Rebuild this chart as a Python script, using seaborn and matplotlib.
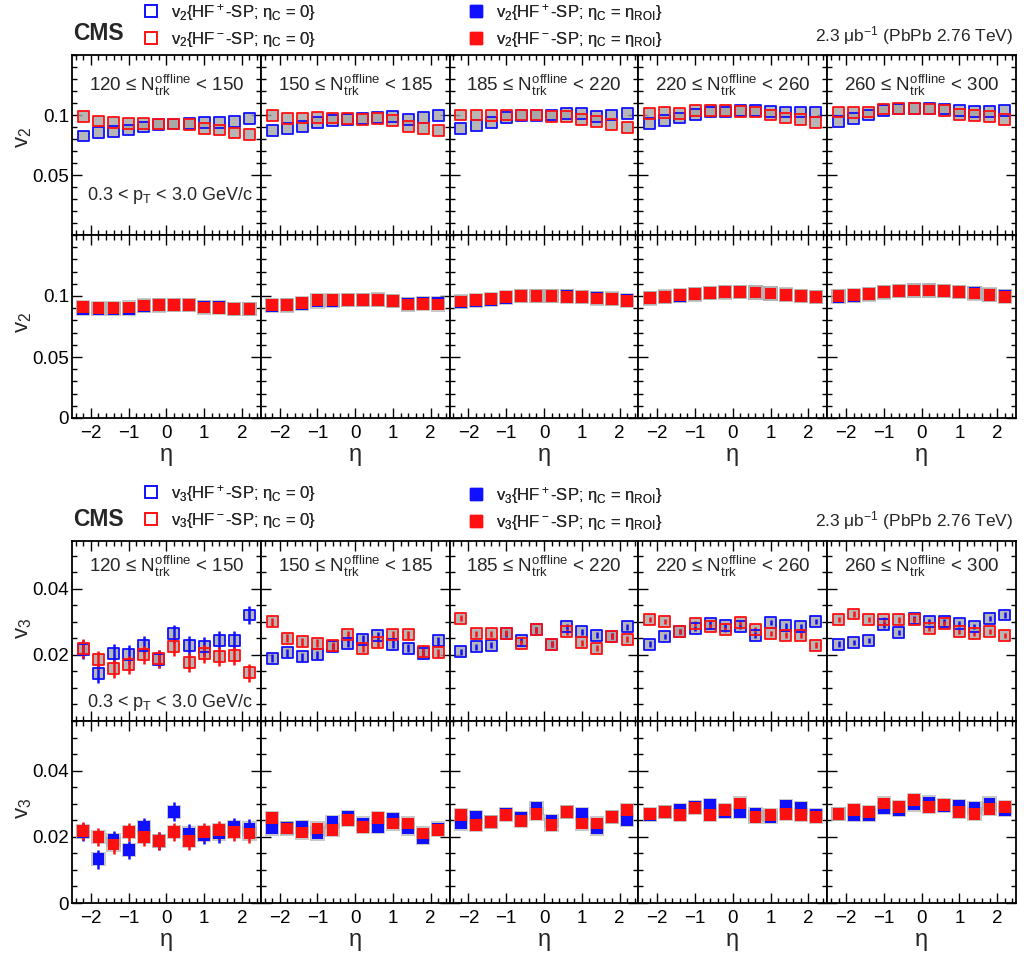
import numpy as np
import pandas as pd
import matplotlib
matplotlib.use("Agg")
import matplotlib.pyplot as plt
import seaborn as sns
from matplotlib.ticker import MultipleLocator, FixedLocator
from matplotlib.lines import Line2D

# ---------------- data ----------------
eta = [-2.2, -1.8, -1.4, -1.0, -0.6, -0.2, 0.2, 0.6, 1.0, 1.4, 1.8, 2.2]
mult_lo = [120, 150, 185, 220, 260]
mult_hi = [150, 185, 220, 260, 300]

# v2, eta_C = 0 (open markers)
v2_hfp_c0 = [
    [0.0825, 0.0853, 0.0860, 0.0875, 0.0900, 0.0922, 0.0925, 0.0930, 0.0935, 0.0938, 0.0945, 0.0970],
    [0.0870, 0.0890, 0.0905, 0.0940, 0.0955, 0.0965, 0.0970, 0.0980, 0.0985, 0.0965, 0.0980, 0.0995],
    [0.0890, 0.0915, 0.0935, 0.0980, 0.0995, 0.0995, 0.1000, 0.1010, 0.1010, 0.0990, 0.1000, 0.1010],
    [0.0930, 0.0955, 0.0975, 0.1005, 0.1025, 0.1025, 0.1035, 0.1035, 0.1030, 0.1025, 0.1025, 0.1025],
    [0.0945, 0.0970, 0.1000, 0.1040, 0.1050, 0.1055, 0.1055, 0.1050, 0.1040, 0.1030, 0.1030, 0.1035],
]
v2_hfm_c0 = [
    [0.0985, 0.0950, 0.0935, 0.0930, 0.0930, 0.0925, 0.0925, 0.0920, 0.0890, 0.0875, 0.0850, 0.0835],
    [0.0995, 0.0970, 0.0975, 0.0980, 0.0975, 0.0970, 0.0965, 0.0970, 0.0955, 0.0905, 0.0890, 0.0870],
    [0.1000, 0.1000, 0.0995, 0.1000, 0.1000, 0.1000, 0.0985, 0.0985, 0.0965, 0.0945, 0.0920, 0.0895],
    [0.1010, 0.1020, 0.1015, 0.1035, 0.1040, 0.1035, 0.1030, 0.1025, 0.1000, 0.0975, 0.0965, 0.0935],
    [0.1025, 0.1020, 0.1025, 0.1050, 0.1055, 0.1055, 0.1050, 0.1040, 0.1005, 0.0995, 0.0985, 0.0965],
]
# v2, eta_C = eta_ROI (filled markers)
v2_hfp_roi = [
    [0.0895, 0.0895, 0.0893, 0.0895, 0.0918, 0.0922, 0.0925, 0.0928, 0.0910, 0.0910, 0.0895, 0.0893],
    [0.0915, 0.0922, 0.0935, 0.0955, 0.0960, 0.0965, 0.0967, 0.0972, 0.0962, 0.0935, 0.0940, 0.0945],
    [0.0950, 0.0960, 0.0970, 0.0985, 0.0998, 0.1000, 0.1002, 0.0998, 0.0992, 0.0985, 0.0980, 0.0970],
    [0.0980, 0.0990, 0.1000, 0.1012, 0.1022, 0.1028, 0.1030, 0.1028, 0.1020, 0.1012, 0.1002, 0.0992],
    [0.0995, 0.1000, 0.1012, 0.1028, 0.1038, 0.1045, 0.1045, 0.1040, 0.1032, 0.1022, 0.1012, 0.1000],
]
v2_hfm_roi = [
    [0.0912, 0.0900, 0.0900, 0.0905, 0.0922, 0.0925, 0.0925, 0.0925, 0.0905, 0.0900, 0.0892, 0.0895],
    [0.0925, 0.0925, 0.0945, 0.0965, 0.0965, 0.0968, 0.0967, 0.0970, 0.0960, 0.0930, 0.0932, 0.0930],
    [0.0955, 0.0965, 0.0975, 0.0990, 0.1000, 0.1000, 0.1000, 0.0995, 0.0990, 0.0980, 0.0975, 0.0960],
    [0.0985, 0.0995, 0.1005, 0.1015, 0.1025, 0.1030, 0.1030, 0.1028, 0.1020, 0.1010, 0.1000, 0.0990],
    [0.1000, 0.1005, 0.1015, 0.1030, 0.1040, 0.1045, 0.1045, 0.1040, 0.1030, 0.1020, 0.1010, 0.0995],
]

# v3, eta_C = 0 (open markers)
v3_hfp_c0 = [
    [0.0217, 0.0144, 0.0205, 0.0202, 0.0230, 0.0187, 0.0264, 0.0228, 0.0225, 0.0245, 0.0245, 0.0321],
    [0.0190, 0.0207, 0.0195, 0.0200, 0.0225, 0.0235, 0.0247, 0.0258, 0.0232, 0.0220, 0.0205, 0.0243],
    [0.0210, 0.0225, 0.0230, 0.0264, 0.0245, 0.0276, 0.0233, 0.0286, 0.0270, 0.0260, 0.0256, 0.0286],
    [0.0233, 0.0256, 0.0270, 0.0280, 0.0294, 0.0288, 0.0286, 0.0260, 0.0298, 0.0288, 0.0286, 0.0301],
    [0.0233, 0.0237, 0.0243, 0.0291, 0.0268, 0.0311, 0.0301, 0.0301, 0.0294, 0.0286, 0.0311, 0.0321],
]
v3_hfm_c0 = [
    [0.0220, 0.0185, 0.0158, 0.0170, 0.0200, 0.0188, 0.0225, 0.0177, 0.0203, 0.0195, 0.0197, 0.0146],
    [0.0301, 0.0250, 0.0240, 0.0235, 0.0228, 0.0261, 0.0220, 0.0237, 0.0261, 0.0261, 0.0210, 0.0207],
    [0.0311, 0.0264, 0.0264, 0.0266, 0.0235, 0.0276, 0.0233, 0.0270, 0.0237, 0.0220, 0.0256, 0.0247],
    [0.0308, 0.0301, 0.0270, 0.0296, 0.0286, 0.0276, 0.0298, 0.0276, 0.0266, 0.0260, 0.0260, 0.0230],
    [0.0308, 0.0324, 0.0308, 0.0306, 0.0306, 0.0306, 0.0280, 0.0294, 0.0270, 0.0264, 0.0270, 0.0258],
]
# v3, eta_C = eta_ROI (filled markers)
v3_hfp_roi = [
    [0.0215, 0.0132, 0.0190, 0.0160, 0.0230, 0.0187, 0.0276, 0.0210, 0.0205, 0.0210, 0.0230, 0.0225],
    [0.0225, 0.0227, 0.0230, 0.0210, 0.0245, 0.0260, 0.0240, 0.0230, 0.0254, 0.0225, 0.0197, 0.0225],
    [0.0240, 0.0260, 0.0245, 0.0270, 0.0256, 0.0286, 0.0248, 0.0276, 0.0270, 0.0225, 0.0260, 0.0250],
    [0.0266, 0.0276, 0.0280, 0.0290, 0.0296, 0.0276, 0.0276, 0.0270, 0.0260, 0.0294, 0.0288, 0.0266],
    [0.0270, 0.0266, 0.0266, 0.0286, 0.0280, 0.0298, 0.0304, 0.0294, 0.0294, 0.0288, 0.0301, 0.0280],
]
v3_hfm_roi = [
    [0.0217, 0.0200, 0.0177, 0.0215, 0.0200, 0.0187, 0.0215, 0.0187, 0.0215, 0.0220, 0.0215, 0.0210],
    [0.0256, 0.0225, 0.0213, 0.0225, 0.0220, 0.0250, 0.0230, 0.0256, 0.0240, 0.0240, 0.0210, 0.0220],
    [0.0266, 0.0235, 0.0245, 0.0266, 0.0248, 0.0270, 0.0235, 0.0276, 0.0240, 0.0240, 0.0260, 0.0280],
    [0.0270, 0.0276, 0.0266, 0.0286, 0.0266, 0.0280, 0.0301, 0.0260, 0.0266, 0.0270, 0.0266, 0.0260],
    [0.0270, 0.0280, 0.0276, 0.0301, 0.0290, 0.0311, 0.0290, 0.0296, 0.0276, 0.0270, 0.0284, 0.0290],
]
v3_stat_err = [0.0028, 0.0012, 0.0009, 0.0008, 0.0008]

# ---------------- style ----------------
sns.set_theme(style="ticks")
plt.rcParams["font.family"] = ["Liberation Sans", "DejaVu Sans"]
plt.rcParams["mathtext.fontset"] = "custom"
plt.rcParams["mathtext.rm"] = "Liberation Sans"
plt.rcParams["mathtext.it"] = "Liberation Sans:italic"
plt.rcParams["mathtext.bf"] = "Liberation Sans:bold"
plt.rcParams["axes.linewidth"] = 1.1

W, H = 1024, 955
fig = plt.figure(figsize=(W / 100, H / 100), dpi=100)
fig.patch.set_facecolor("white")

col_edges = np.linspace(72, 1016, 6)
BLUE, RED, GRAY = "#1010ff", "#ff1010", "#a4a4a4"


def make_block(top, mid, bot):
    rows = []
    for (t, b) in [(top, mid), (mid, bot)]:
        row = []
        for i in range(5):
            l, r = col_edges[i], col_edges[i + 1]
            ax = fig.add_axes([l / W, 1 - b / H, (r - l) / W, (b - t) / H])
            row.append(ax)
        rows.append(row)
    return rows


def draw(ax, blue, red, filled, err):
    df = pd.DataFrame({
        "eta": eta + eta,
        "v": list(blue) + list(red),
        "series": ["HF+"] * len(eta) + ["HF-"] * len(eta),
    })
    # systematic boxes (gray)
    sns.scatterplot(data=df, x="eta", y="v", marker="s", s=(105 if filled else 62),
                    color=GRAY, alpha=(0.6 if filled else 0.8), edgecolor="none", linewidth=0,
                    legend=False, ax=ax, zorder=2)
    if err > 0:
        for vals, c in [(blue, BLUE), (red, RED)]:
            ax.errorbar(eta, vals, yerr=err, fmt="none", ecolor=c, elinewidth=1.8,
                        capsize=0, zorder=3)
    sns.scatterplot(data=df, x="eta", y="v", hue="series",
                    palette={"HF+": BLUE, "HF-": RED}, marker="s",
                    s=(72 if filled else 62), linewidth=(0 if filled else 1.3),
                    edgecolor="none", legend=False, ax=ax, zorder=4)
    pc = ax.collections[-1]
    if not filled:
        pc.set_edgecolor(pc.get_facecolor())
        pc.set_facecolor("none")
        pc.set_linewidth(1.3)


def style_axes(ax, ylim, minor, ylabels, show_x, show_y):
    ax.set_xlim(-2.5, 2.5)
    ax.set_ylim(*ylim)
    ax.set_xlabel("")
    ax.set_ylabel("")
    ax.xaxis.set_major_locator(FixedLocator([-2, -1, 0, 1, 2]))
    ax.xaxis.set_minor_locator(MultipleLocator(0.2))
    ax.yaxis.set_major_locator(FixedLocator(ylabels))
    ax.yaxis.set_minor_locator(MultipleLocator(minor))
    ax.tick_params(which="both", direction="in", top=True, right=True,
                   bottom=True, left=True, colors="black", width=1.0)
    ax.tick_params(which="major", length=7)
    ax.tick_params(which="minor", length=3.5)
    ax.tick_params(axis="x", labelsize=13.5, pad=5, labelbottom=show_x)
    ax.tick_params(axis="y", labelsize=13.5, pad=2, labelleft=show_y)
    if show_y:
        ax.set_yticklabels([("0" if t == 0 else ("%g" % t)) for t in ylabels])
    for s in ax.spines.values():
        s.set_color("black")
        s.set_linewidth(1.3)
    ax.set_facecolor("white")


def header(y1, y2, vn, cms_y, lumi_y):
    fig.text(73 / W, 1 - cms_y / H, "CMS", fontsize=16.5, fontweight="bold",
             va="center", ha="left")
    fig.text(1013 / W, 1 - lumi_y / H, "2.3 μb$^{-1}$ (PbPb 2.76 TeV)",
             fontsize=12.5, va="center", ha="right")
    open_h = [Line2D([], [], marker="s", ls="none", mfc="none", mec=c, mew=1.2, ms=8.5)
              for c in (BLUE, RED)]
    fill_h = [Line2D([], [], marker="s", ls="none", mfc=c, mec=c, ms=8.5)
              for c in (BLUE, RED)]
    lab_open = [f"v$_{vn}${{HF$^+$-SP; η$_\\mathrm{{C}}$ = 0}}",
                f"v$_{vn}${{HF$^-$-SP; η$_\\mathrm{{C}}$ = 0}}"]
    lab_fill = [f"v$_{vn}${{HF$^+$-SP; η$_\\mathrm{{C}}$ = η$_\\mathrm{{ROI}}$}}",
                f"v$_{vn}${{HF$^-$-SP; η$_\\mathrm{{C}}$ = η$_\\mathrm{{ROI}}$}}"]
    for handles, labels, x0, yy in [(open_h, lab_open, 143, y1), (fill_h, lab_fill, 468, y2)]:
        leg = fig.legend(handles, labels, loc="upper left",
                         bbox_to_anchor=(x0 / W, 1 - yy / H), frameon=False,
                         fontsize=12, handlelength=1.0, handletextpad=0.7,
                         labelspacing=0.42, borderpad=0, borderaxespad=0)
        fig.add_artist(leg)


def panel_texts(rows, label_y, pt_y):
    for i, ax in enumerate(rows[0]):
        ax.text(0.5, label_y,
                f"{mult_lo[i]} ≤ $\\mathrm{{N}}_{{\\mathrm{{trk}}}}^{{\\mathrm{{offline}}}}$ < {mult_hi[i]}",
                transform=ax.transAxes, ha="center", va="center", fontsize=13.5)
    rows[0][0].text(0.08, pt_y, "0.3 < p$_\\mathrm{T}$ < 3.0 GeV/c",
                    transform=rows[0][0].transAxes, ha="left", va="center", fontsize=13)


# ---------------- v2 block ----------------
v2_rows = make_block(55, 235, 418)
for i in range(5):
    draw(v2_rows[0][i], v2_hfp_c0[i], v2_hfm_c0[i], False, 0)
    draw(v2_rows[1][i], v2_hfp_roi[i], v2_hfm_roi[i], True, 0)
    style_axes(v2_rows[0][i], (0, 0.15), 0.01, [0.05, 0.1], False, i == 0)
    style_axes(v2_rows[1][i], (0, 0.15), 0.01, [0, 0.05, 0.1], True, i == 0)
    cx = (col_edges[i] + col_edges[i + 1]) / 2
    fig.text(cx / W, 1 - 455 / H, "η", fontsize=17, ha="center", va="center")
fig.text(24 / W, 1 - 137 / H, "v$_2$", fontsize=16, rotation=90, ha="center", va="center")
fig.text(24 / W, 1 - 322 / H, "v$_2$", fontsize=16, rotation=90, ha="center", va="center")
header(2, 2, 2, 34, 36)
panel_texts(v2_rows, 0.833, 0.217)

# ---------------- v3 block ----------------
v3_rows = make_block(541, 721, 903)
for i in range(5):
    draw(v3_rows[0][i], v3_hfp_c0[i], v3_hfm_c0[i], False, v3_stat_err[i])
    draw(v3_rows[1][i], v3_hfp_roi[i], v3_hfm_roi[i], True, v3_stat_err[i])
    style_axes(v3_rows[0][i], (0, 0.0545), 0.005, [0.02, 0.04], False, i == 0)
    style_axes(v3_rows[1][i], (0, 0.055), 0.005, [0, 0.02, 0.04], True, i == 0)
    cx = (col_edges[i] + col_edges[i + 1]) / 2
    fig.text(cx / W, 1 - 940 / H, "η", fontsize=17, ha="center", va="center")
fig.text(24 / W, 1 - 628 / H, "v$_3$", fontsize=16, rotation=90, ha="center", va="center")
fig.text(24 / W, 1 - 808 / H, "v$_3$", fontsize=16, rotation=90, ha="center", va="center")
header(483, 485, 3, 520, 521)
panel_texts(v3_rows, 0.856, 0.105)

fig.savefig("out.png", dpi=100, facecolor="white")
